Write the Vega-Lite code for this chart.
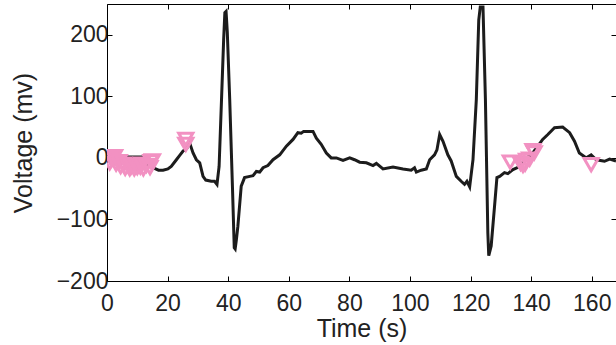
{
  "$schema": "https://vega.github.io/schema/vega-lite/v6.json",
  "width": 509,
  "height": 277,
  "autosize": {"type": "none"},
  "padding": {"left": 107, "top": 4, "right": 0, "bottom": 64},
  "background": "white",
  "config": {
    "view": {"stroke": null},
    "axis": {
      "grid": false,
      "domain": true,
      "domainColor": "#000000",
      "domainWidth": 1,
      "tickColor": "#000000",
      "tickSize": -5,
      "tickWidth": 1,
      "labelFont": "Liberation Sans",
      "labelFontSize": 23,
      "labelColor": "#222222",
      "titleFont": "Liberation Sans",
      "titleFontSize": 25,
      "titleFontWeight": "normal",
      "titleColor": "#222222"
    }
  },
  "datasets": {
    "ecg": [
      {"t": 1, "v": 1}, {"t": 3, "v": 1.5}, {"t": 6, "v": 1.5}, {"t": 9, "v": 1.5}, {"t": 11.4, "v": 1.5},
      {"t": 12.5, "v": -8}, {"t": 14, "v": -14}, {"t": 15.7, "v": -17}, {"t": 17, "v": -20}, {"t": 18.5, "v": -20},
      {"t": 20.1, "v": -18}, {"t": 21.2, "v": -14}, {"t": 22.9, "v": -3}, {"t": 24, "v": 4}, {"t": 25.1, "v": 11},
      {"t": 26.4, "v": 16}, {"t": 27.1, "v": 27}, {"t": 28.4, "v": 8}, {"t": 29.5, "v": -3}, {"t": 30.6, "v": -8},
      {"t": 31.7, "v": -30}, {"t": 32.6, "v": -36}, {"t": 34.4, "v": -38}, {"t": 35.5, "v": -38}, {"t": 36.3, "v": -43},
      {"t": 37, "v": -14}, {"t": 37.8, "v": 95}, {"t": 38.5, "v": 192}, {"t": 38.9, "v": 236}, {"t": 39.3, "v": 238},
      {"t": 39.7, "v": 205}, {"t": 40.5, "v": 95}, {"t": 41.4, "v": -46}, {"t": 42, "v": -146}, {"t": 42.3, "v": -148},
      {"t": 42.7, "v": -133}, {"t": 43.2, "v": -111}, {"t": 44.3, "v": -46}, {"t": 45.4, "v": -32}, {"t": 47.1, "v": -30},
      {"t": 48.2, "v": -29}, {"t": 49.3, "v": -22}, {"t": 50.4, "v": -23}, {"t": 51.5, "v": -16}, {"t": 53.1, "v": -12.5},
      {"t": 54.8, "v": -3}, {"t": 57, "v": 5}, {"t": 59.2, "v": 19}, {"t": 61.4, "v": 30}, {"t": 63, "v": 41},
      {"t": 64.1, "v": 40}, {"t": 64.9, "v": 43}, {"t": 68, "v": 43}, {"t": 69.1, "v": 32}, {"t": 70.7, "v": 22},
      {"t": 72.4, "v": 8}, {"t": 74, "v": 0}, {"t": 75.7, "v": 0}, {"t": 77.9, "v": -4}, {"t": 80.1, "v": 0},
      {"t": 81.7, "v": -3}, {"t": 83.4, "v": -7}, {"t": 85.6, "v": -8}, {"t": 87.8, "v": -12.5}, {"t": 88.9, "v": -9},
      {"t": 91.1, "v": -18}, {"t": 94.4, "v": -15}, {"t": 97.7, "v": -18}, {"t": 100.4, "v": -20}, {"t": 101.5, "v": -16},
      {"t": 102.1, "v": -23}, {"t": 103.7, "v": -20}, {"t": 105.4, "v": -18}, {"t": 106.5, "v": -3}, {"t": 108.1, "v": 5},
      {"t": 108.9, "v": 13}, {"t": 109.8, "v": 38}, {"t": 110.9, "v": 27}, {"t": 112.5, "v": 5}, {"t": 113.6, "v": -5},
      {"t": 115.3, "v": -30}, {"t": 116.9, "v": -38}, {"t": 118, "v": -43}, {"t": 118.8, "v": -38}, {"t": 119.7, "v": -47},
      {"t": 120.8, "v": -3}, {"t": 121.9, "v": 95}, {"t": 122.7, "v": 224}, {"t": 123.2, "v": 245}, {"t": 124.1, "v": 245},
      {"t": 124.9, "v": 95}, {"t": 125.7, "v": -122}, {"t": 126, "v": -159}, {"t": 126.8, "v": -143}, {"t": 127.9, "v": -79},
      {"t": 128.7, "v": -32}, {"t": 129.6, "v": -30}, {"t": 131.2, "v": -24}, {"t": 132.3, "v": -25.5}, {"t": 134, "v": -19},
      {"t": 136.2, "v": -14}, {"t": 138.4, "v": 0}, {"t": 140, "v": 5}, {"t": 142.2, "v": 19}, {"t": 143.8, "v": 30},
      {"t": 145.5, "v": 38}, {"t": 147.7, "v": 49}, {"t": 150.4, "v": 50}, {"t": 152.7, "v": 41}, {"t": 154.3, "v": 27},
      {"t": 155.9, "v": 8}, {"t": 158.2, "v": 0}, {"t": 159.8, "v": 5}, {"t": 161.5, "v": -3}, {"t": 164.2, "v": -5.5},
      {"t": 165.9, "v": -2}, {"t": 168, "v": -5}
    ],
    "marks": [
      {"t": 0.9, "v": -8}, {"t": 1.5, "v": -3}, {"t": 2.5, "v": 2}, {"t": 3, "v": -10}, {"t": 4, "v": -6},
      {"t": 4.5, "v": -14}, {"t": 5.5, "v": -10}, {"t": 6, "v": -17}, {"t": 7, "v": -12}, {"t": 7.5, "v": -18},
      {"t": 8, "v": -14}, {"t": 9, "v": -18}, {"t": 9.5, "v": -12}, {"t": 10, "v": -16}, {"t": 11, "v": -15},
      {"t": 11.5, "v": -10}, {"t": 12, "v": -18}, {"t": 13, "v": -12}, {"t": 14.2, "v": -16}, {"t": 15, "v": -5},
      {"t": 14.5, "v": -6}, {"t": 26, "v": 30}, {"t": 26, "v": 22},
      {"t": 133.1, "v": -7}, {"t": 136.5, "v": -9}, {"t": 137.3, "v": -12}, {"t": 138, "v": -10}, {"t": 138.5, "v": -4},
      {"t": 139.5, "v": -2}, {"t": 140.6, "v": 12}, {"t": 141, "v": 8}, {"t": 159.8, "v": -11}
    ]
  },
  "layer": [
    {
      "data": {"name": "ecg"},
      "mark": {"type": "line", "color": "#1c1c1c", "strokeWidth": 3, "clip": true},
      "encoding": {
        "x": {"field": "t", "type": "quantitative", "scale": {"domain": [0, 168], "nice": false, "zero": false},
          "axis": {"orient": "bottom", "values": [0, 20, 40, 60, 80, 100, 120, 140, 160], "title": "Time (s)", "labelPadding": 16, "titlePadding": 1, "labelFlush": false}},
        "y": {"field": "v", "type": "quantitative", "scale": {"domain": [-200, 250], "nice": false, "zero": false},
          "axis": {"orient": "left", "values": [-200, -100, 0, 100, 200], "title": "Voltage (mv)", "labelPadding": 4, "titlePadding": 20, "labelFlush": false}}
      }
    },
    {
      "data": {"name": "marks"},
      "mark": {"type": "point", "shape": "triangle-down", "filled": false, "color": "#f291c2", "strokeWidth": 3, "size": 200, "opacity": 1, "clip": true},
      "encoding": {
        "x": {"field": "t", "type": "quantitative", "axis": {"orient": "top", "labels": false, "title": null, "values": [0, 20, 40, 60, 80, 100, 120, 140, 160]}},
        "y": {"field": "v", "type": "quantitative", "axis": {"orient": "right", "labels": false, "title": null, "values": [-200, -100, 0, 100, 200]}}
      }
    }
  ],
  "resolve": {"axis": {"x": "independent", "y": "independent"}}
}
